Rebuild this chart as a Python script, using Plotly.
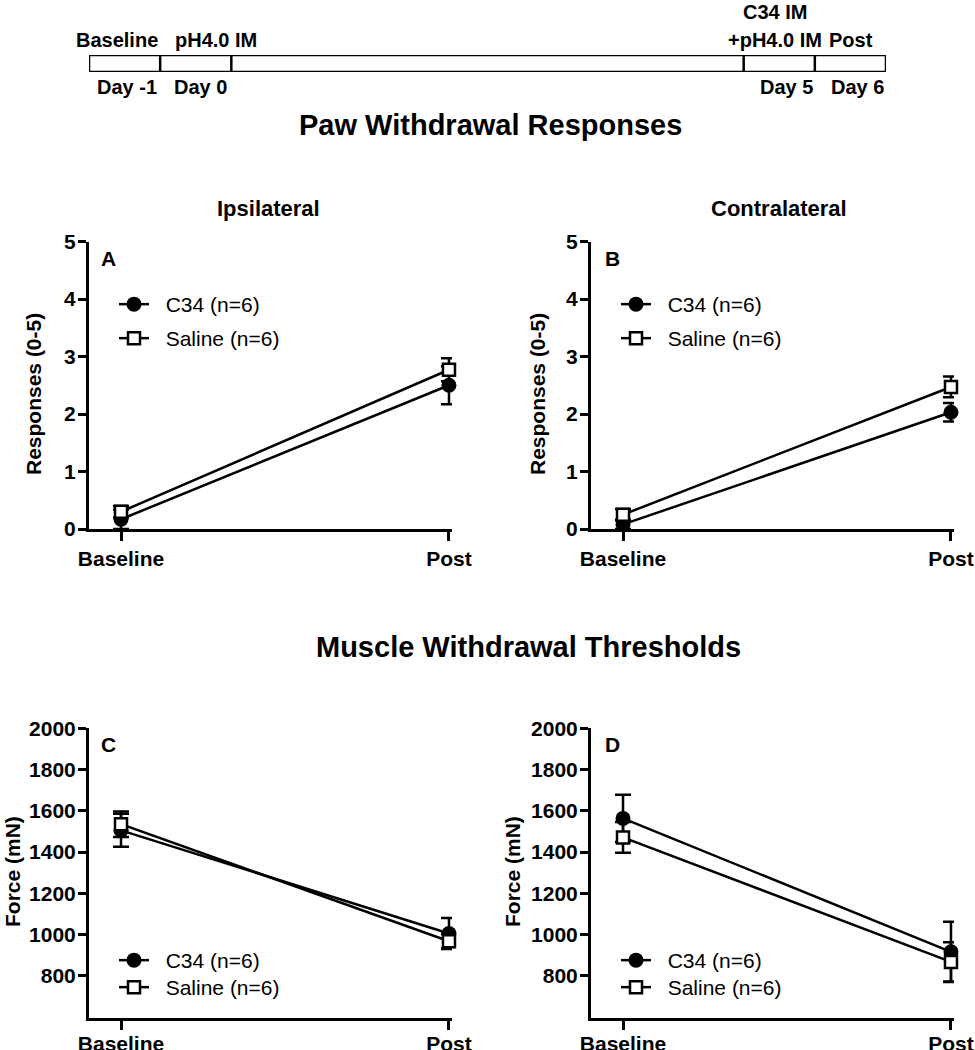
import plotly.graph_objects as go

W, H = 975, 1050
FONT = "Liberation Sans, Arial, sans-serif"

# ---------------- data ----------------
categories = ["Baseline", "Post"]
series_names = ["C34 (n=6)", "Saline (n=6)"]

# Panel A: Ipsilateral paw withdrawal responses (0-5)
a_c34 = [0.17, 2.50]
a_c34_err = [0.17, 0.33]
a_sal = [0.30, 2.77]
a_sal_err = [0.10, 0.20]

# Panel B: Contralateral paw withdrawal responses (0-5)
b_c34 = [0.08, 2.03]
b_c34_err = [0.08, 0.16]
b_sal = [0.25, 2.47]
b_sal_err = [0.10, 0.18]

# Panel C: Ipsilateral muscle withdrawal thresholds (mN)
c_c34 = [1505, 1005]
c_c34_err = [80, 75]
c_sal = [1535, 967]
c_sal_err = [62, 35]

# Panel D: Contralateral muscle withdrawal thresholds (mN)
d_c34 = [1563, 916]
d_c34_err = [115, 146]
d_sal = [1471, 867]
d_sal_err = [75, 95]

resp_ticks = [0, 1, 2, 3, 4, 5]
force_ticks = [800, 1000, 1200, 1400, 1600, 1800, 2000]

# Timeline (cell edges in day-cell units)
timeline_edges = [0, 1, 2, 9.2, 10.2, 11.2]
timeline_top_labels = ["Baseline", "pH4.0 IM", "C34 IM", "+pH4.0 IM", "Post"]
timeline_top_pos = [0.40, 1.79, 9.64, 9.64, 10.71]
timeline_top_row = [1, 1, 0, 1, 1]
timeline_bottom_labels = ["Day -1", "Day 0", "Day 5", "Day 6"]
timeline_bottom_pos = [0.535, 1.56, 9.80, 10.80]

# ---------------- helpers (pixels -> paper fractions) ----------------
def px(x):
    return x / W

def py(y):
    return 1 - y / H

fig = go.Figure()

panels = [
    dict(sfx="", data=(a_c34, a_c34_err, a_sal, a_sal_err), lx=114, ly=(305, 339)),
    dict(sfx="2", data=(b_c34, b_c34_err, b_sal, b_sal_err), lx=616, ly=(305, 339)),
    dict(sfx="3", data=(c_c34, c_c34_err, c_sal, c_sal_err), lx=114, ly=(961, 988)),
    dict(sfx="4", data=(d_c34, d_c34_err, d_sal, d_sal_err), lx=616, ly=(961, 988)),
]

legfont = dict(family=FONT, size=21, color="black")
legends = {}
for i, p in enumerate(panels):
    c34, c34e, sal, sale = p["data"]
    sfx = p["sfx"]
    l1 = "legend" if i == 0 else f"legend{2 * i + 1}"
    l2 = f"legend{2 * i + 2}"
    for lname, yc in zip((l1, l2), p["ly"]):
        legends[lname] = dict(x=px(p["lx"]), y=py(yc - 21), xanchor="left", yanchor="top",
                              bgcolor="rgba(0,0,0,0)", font=legfont, borderwidth=0,
                              itemclick=False, itemdoubleclick=False)
    fig.add_trace(go.Scatter(
        x=categories, y=c34, name="\u00a0\u00a0" + series_names[0],
        xaxis="x" + sfx, yaxis="y" + sfx, legend=l1,
        mode="lines+markers", cliponaxis=False,
        line=dict(color="black", width=2.5),
        marker=dict(symbol="circle", size=15, color="black"),
        error_y=dict(type="data", array=c34e, color="black", thickness=2.5, width=8),
    ))
    fig.add_trace(go.Scatter(
        x=categories, y=sal, name="\u00a0\u00a0" + series_names[1],
        xaxis="x" + sfx, yaxis="y" + sfx, legend=l2,
        mode="lines+markers", cliponaxis=False,
        line=dict(color="black", width=2.5),
        marker=dict(symbol="square", size=12, color="white",
                    line=dict(color="black", width=2.5)),
        error_y=dict(type="data", array=sale, color="black", thickness=2.5, width=8),
    ))

xdom_left = [px(89), px(452)]
xdom_right = [px(591), px(954)]
ydom_top = [py(529), py(241.5)]
ydom_bot = [py(1018), py(728.3)]
xrange = [-0.0976, 1.0092]

tickfont = dict(family=FONT, size=21, color="black", weight="bold")

def xax(dom, anchor, standoff=0):
    return dict(domain=dom, anchor=anchor, type="category", range=xrange,
                showline=True, linewidth=3, linecolor="black",
                ticks="outside", ticklen=9, tickwidth=3, tickcolor="black",
                tickfont=tickfont, ticklabelstandoff=standoff,
                showgrid=False, zeroline=False, fixedrange=True, automargin=False)

def yax(dom, anchor, rng, tv):
    return dict(domain=dom, anchor=anchor, range=rng, tickvals=tv,
                showline=True, linewidth=3, linecolor="black",
                ticks="outside", ticklen=8, tickwidth=3, tickcolor="black",
                tickfont=tickfont, ticklabelstandoff=-2,
                showgrid=False, zeroline=False,
                fixedrange=True, automargin=False)

fig.update_layout(
    width=W, height=H,
    margin=dict(l=0, r=0, t=0, b=0, pad=0, autoexpand=False),
    paper_bgcolor="white", plot_bgcolor="white",
    font=dict(family=FONT, color="black"),
    showlegend=True,
    xaxis=xax(xdom_left, "y"),
    yaxis=yax(ydom_top, "x", [0, 5], resp_ticks),
    xaxis2=xax(xdom_right, "y2"),
    yaxis2=yax(ydom_top, "x2", [0, 5], resp_ticks),
    xaxis3=xax(xdom_left, "y3", -4),
    yaxis3=yax(ydom_bot, "x3", [595, 2000], force_ticks),
    xaxis4=xax(xdom_right, "y4", -4),
    yaxis4=yax(ydom_bot, "x4", [595, 2000], force_ticks),
    xaxis5=dict(domain=[px(89), px(886)], anchor="y5", range=[timeline_edges[0], timeline_edges[-1]],
                visible=False, fixedrange=True, automargin=False),
    yaxis5=dict(domain=[py(72), py(55)], anchor="x5", range=[0, 1], visible=False,
                fixedrange=True, automargin=False),
    **legends,
)

# Timeline box
shapes = [dict(type="rect", xref="x5", yref="y5", x0=timeline_edges[0], x1=timeline_edges[-1],
               y0=0, y1=1, line=dict(color="black", width=2.5), fillcolor="white", layer="above")]
for e in timeline_edges[1:-1]:
    shapes.append(dict(type="line", xref="x5", yref="y5", x0=e, x1=e, y0=0, y1=1,
                       line=dict(color="black", width=2.5), layer="above"))
fig.update_layout(shapes=shapes)

ann = []
tl_font = dict(family=FONT, size=20, color="black", weight="bold")
row_y = [12, 40]
for lab, pos, row in zip(timeline_top_labels, timeline_top_pos, timeline_top_row):
    ann.append(dict(text=lab, xref="x5", yref="paper", x=pos, y=py(row_y[row]),
                    xanchor="center", yanchor="middle", showarrow=False, font=tl_font))
for lab, pos in zip(timeline_bottom_labels, timeline_bottom_pos):
    ann.append(dict(text=lab, xref="x5", yref="paper", x=pos, y=py(87),
                    xanchor="center", yanchor="middle", showarrow=False, font=tl_font))

title_font = dict(family=FONT, size=29, color="black", weight="bold")
sub_font = dict(family=FONT, size=22, color="black", weight="bold")
axt_font = dict(family=FONT, size=21, color="black", weight="bold")
letter_font = dict(family=FONT, size=21, color="black", weight="bold")

ann += [
    dict(text="Paw Withdrawal Responses", x=px(490), y=py(125), font=title_font),
    dict(text="Muscle Withdrawal Thresholds", x=px(528), y=py(647), font=title_font),
    dict(text="Ipsilateral", x=px(268), y=py(208), font=sub_font),
    dict(text="Contralateral", x=px(779), y=py(208), font=sub_font),
    dict(text="Responses (0-5)", x=px(33), y=py(394), font=axt_font, textangle=-90),
    dict(text="Responses (0-5)", x=px(537), y=py(394), font=axt_font, textangle=-90),
    dict(text="Force (mN)", x=px(12), y=py(872), font=axt_font, textangle=-90),
    dict(text="Force (mN)", x=px(512), y=py(872), font=axt_font, textangle=-90),
    dict(text="A", x=px(108), y=py(258), font=letter_font),
    dict(text="B", x=px(612), y=py(258), font=letter_font),
    dict(text="C", x=px(108), y=py(744), font=letter_font),
    dict(text="D", x=px(612), y=py(744), font=letter_font),
]
for a in ann:
    a.setdefault("xref", "paper")
    a.setdefault("yref", "paper")
    a.setdefault("xanchor", "center")
    a.setdefault("yanchor", "middle")
    a.setdefault("showarrow", False)
fig.update_layout(annotations=ann)

# Remove the browser's default 8px page margin so the 975x1050 figure fills the window exactly.
page_fix = ("document.body.style.margin='0';"
            "document.body.style.overflow='hidden';"
            "document.documentElement.style.overflow='hidden';")

fig.write_html("out.html", post_script=page_fix, config={"displayModeBar": False})
